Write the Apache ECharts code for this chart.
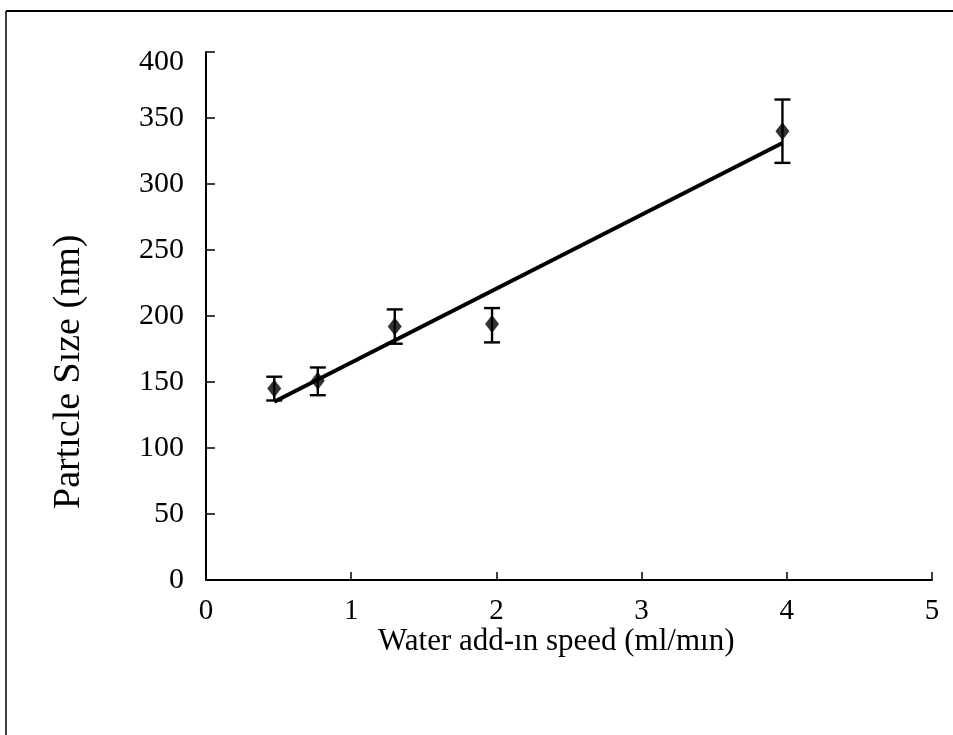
<!DOCTYPE html>
<html>
<head>
<meta charset="utf-8">
<script src="https://cdn.jsdelivr.net/npm/echarts@6/dist/echarts.min.js"></script>
<style>
html,body{margin:0;padding:0;background:#fff;}
#chart{width:953px;height:735px;}
</style>
</head>
<body>
<div id="chart"></div>
<script>
// Data
var speed = [0.47, 0.77, 1.3, 1.97, 3.97];
var size = [145, 151, 192, 194, 340];
var errLow = [136, 140, 179, 180, 316];
var errHigh = [154, 161, 205, 206, 364];
var trendX = [0.47, 3.97];
var trendY = [135, 331];
var xTicks = [0, 1, 2, 3, 4, 5];
var yTicks = [0, 50, 100, 150, 200, 250, 300, 350, 400];
var xTitle = 'Water add-\u0131n speed (ml/m\u0131n)';
var yTitle = 'Part\u0131cle S\u0131ze (nm)';

var FONT = '"Liberation Serif", "Times New Roman", serif';
var chart = echarts.init(document.getElementById('chart'));

var pts = speed.map(function (x, i) { return [x, size[i]]; });
var errs = speed.map(function (x, i) { return [x, errLow[i], errHigh[i]]; });
var trend = trendX.map(function (x, i) { return [x, trendY[i]]; });
var yMax = yTicks[yTicks.length - 1];

chart.setOption({
  animation: false,
  backgroundColor: '#fff',
  grid: { left: 206, right: 21, top: 52, bottom: 155 },
  xAxis: {
    type: 'value', min: xTicks[0], max: xTicks[xTicks.length - 1], interval: 1,
    axisLine: { lineStyle: { color: '#000', width: 2 } },
    axisTick: { inside: true, length: 8, lineStyle: { color: '#000', width: 1.5 } },
    axisLabel: { color: '#000', fontFamily: FONT, fontSize: 29, margin: 17 },
    splitLine: { show: false }
  },
  yAxis: {
    type: 'value', min: yTicks[0], max: yMax, interval: 50,
    axisLine: { show: true, lineStyle: { color: '#000', width: 2 } },
    axisTick: { show: true, inside: true, length: 9, lineStyle: { color: '#000', width: 1.5 } },
    axisLabel: {
      color: '#000', fontFamily: FONT, fontSize: 30, margin: 22,
      formatter: function (v) { return v === yMax ? '{lo|' + v + '}' : String(v); },
      rich: { lo: { fontFamily: FONT, fontSize: 30, color: '#000', padding: [20, 0, 0, 0] } }
    },
    splitLine: { show: false }
  },
  graphic: [
    { type: 'line', shape: { x1: 6, y1: 11, x2: 953, y2: 11 }, style: { stroke: '#000', lineWidth: 2 } },
    { type: 'line', shape: { x1: 6, y1: 11, x2: 6, y2: 735 }, style: { stroke: '#000', lineWidth: 1.5 } },
    { type: 'text', left: 378, top: 626, style: { text: xTitle, font: '31px ' + FONT, fill: '#000' } },
    { type: 'text', x: 50, y: 509, rotation: Math.PI / 2, style: { text: yTitle, font: '38px ' + FONT, fill: '#000' } }
  ],
  series: [
    {
      type: 'line', data: trend, showSymbol: false, symbol: 'none',
      lineStyle: { color: '#000', width: 4 }, z: 2
    },
    {
      type: 'custom', z: 3,
      renderItem: function (params, api) {
        var x = api.value(0);
        var lo = api.coord([x, api.value(1)]);
        var hi = api.coord([x, api.value(2)]);
        var w = 8;
        var st = { stroke: '#000', lineWidth: 2.4 };
        return {
          type: 'group',
          children: [
            { type: 'line', shape: { x1: lo[0], y1: lo[1], x2: hi[0], y2: hi[1] }, style: st },
            { type: 'line', shape: { x1: lo[0] - w, y1: lo[1], x2: lo[0] + w, y2: lo[1] }, style: st },
            { type: 'line', shape: { x1: hi[0] - w, y1: hi[1], x2: hi[0] + w, y2: hi[1] }, style: st }
          ]
        };
      },
      data: errs
    },
    {
      type: 'scatter', data: pts, symbol: 'diamond', symbolSize: [14, 18],
      itemStyle: { color: '#000' }, z: 4
    }
  ]
});
</script>
</body>
</html>
